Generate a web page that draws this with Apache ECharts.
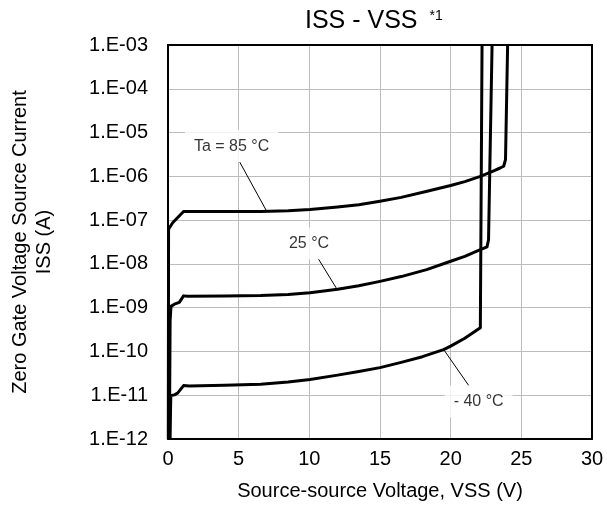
<!DOCTYPE html>
<html>
<head>
<meta charset="utf-8">
<script src="https://cdn.jsdelivr.net/npm/echarts@6/dist/echarts.min.js"></script>
<style>
html,body{margin:0;padding:0;background:#fff;}
#chart{width:607px;height:510px;}
</style>
</head>
<body>
<div id="chart"></div>
<script>
// ---- Data ----
const xTicks = [0, 5, 10, 15, 20, 25, 30];
const yTickLabels = ['1.E-12','1.E-11','1.E-10','1.E-09','1.E-08','1.E-07','1.E-06','1.E-05','1.E-04','1.E-03'];

// Ta = 85 °C
const v85 = [0.02, 0.04, 0.33, 1.1, 3, 6.56, 8.5, 10.05, 12, 13.5, 15, 16.5, 18.33, 20, 21, 22.1, 23, 23.5, 23.75, 23.88, 24.03];
const i85 = [1e-12, 6.2e-8, 8.7e-8, 1.58e-7, 1.58e-7, 1.58e-7, 1.64e-7, 1.74e-7, 2.0e-7, 2.24e-7, 2.69e-7, 3.31e-7, 4.57e-7, 6.17e-7, 7.59e-7, 1.0e-6, 1.32e-6, 1.55e-6, 1.70e-6, 2.4e-6, 1e-3];

// 25 °C
const v25 = [0.1, 0.15, 0.21, 0.45, 0.8, 1.1, 1.4, 4, 6.56, 8.5, 10.05, 12, 13.5, 15, 16.5, 18.3, 20, 21, 22.1, 22.57, 22.68, 22.76, 22.93];
const i25 = [1e-12, 5e-10, 1.07e-9, 1.2e-9, 1.32e-9, 1.86e-9, 1.82e-9, 1.84e-9, 1.89e-9, 2.0e-9, 2.19e-9, 2.63e-9, 3.16e-9, 3.98e-9, 5.13e-9, 7.41e-9, 1.15e-8, 1.48e-8, 2.11e-8, 2.45e-8, 3.55e-8, 1e-6, 1e-3];

// -40 °C
const vM40 = [0.15, 0.18, 0.2, 0.45, 0.68, 1.1, 1.5, 4, 6.56, 8.5, 10.05, 12, 13.5, 15, 16.5, 18, 19.5, 20, 21, 22.1, 22.22];
const iM40 = [1e-12, 5e-12, 9.8e-12, 1.02e-11, 1.12e-11, 1.66e-11, 1.62e-11, 1.68e-11, 1.78e-11, 2.0e-11, 2.29e-11, 2.88e-11, 3.47e-11, 4.27e-11, 5.62e-11, 7.59e-11, 1.1e-10, 1.32e-10, 2.0e-10, 3.47e-10, 1e-3];

// Annotation labels: text, label anchor (V, A), leader start, leader end
const annTexts = ['Ta = 85 °C', '25 °C', '- 40 °C'];
const annAnchor = [[4.5, 4.9e-6], [9.98, 2.95e-8], [21.98, 7.2e-12]];
const annLeaderFrom = [[5.08, 2.1e-6], [10.64, 1.3e-8], [21.28, 1.66e-11]];
const annLeaderTo = [[6.99, 1.58e-7], [11.94, 2.7e-9], [19.51, 1.1e-10]];

// ---- Build ----
const FONT = "'Liberation Sans', Arial, sans-serif";
const zip = (xs, ys) => xs.map((x, k) => [x, ys[k]]);
const curve = (name, xs, ys) => ({
  name, type: 'line', data: zip(xs, ys), showSymbol: false, symbol: 'none',
  lineStyle: { color: '#000', width: 3, join: 'round' }, z: 5, animation: false
});

const series = [
  curve('85', v85, i85),
  curve('25', v25, i25),
  curve('-40', vM40, iM40)
];
annTexts.forEach((t, k) => {
  series.push({
    type: 'line', data: [annLeaderFrom[k], annLeaderTo[k]], symbol: 'none',
    lineStyle: { color: '#000', width: 1 }, z: 4, animation: false, silent: true
  });
  series.push({
    type: 'scatter', data: [annAnchor[k]], symbolSize: 0, z: 6, animation: false, silent: true,
    label: {
      show: true, position: 'inside', formatter: t, color: '#000',
      fontFamily: FONT, fontSize: 16, backgroundColor: '#fff', padding: [8, 9]
    }
  });
});

const splitStyle = { show: true, lineStyle: { color: '#bcbcbc', width: 1, type: 'solid' } };
const borderLine = { show: true, onZero: false, lineStyle: { color: '#000', width: 2 } };

const chart = echarts.init(document.getElementById('chart'), null, { renderer: 'canvas' });
chart.setOption({
  animation: false,
  backgroundColor: '#fff',
  title: {
    text: '{a|ISS - VSS }{b|*1}',
    left: 305, top: 9, padding: 0,
    textStyle: {
      fontWeight: 'normal',
      rich: {
        a: { fontFamily: FONT, fontSize: 25, fontWeight: 'normal', color: '#000' },
        b: { fontFamily: FONT, fontSize: 14, fontWeight: 'normal', color: '#000', verticalAlign: 'top', padding: [0, 0, 0, 5] }
      }
    }
  },
  grid: { left: 167, right: 15, top: 45, bottom: 71, show: false },
  xAxis: [{
    type: 'value', min: xTicks[0], max: xTicks[xTicks.length - 1], interval: 5,
    name: 'Source-source Voltage, VSS (V)', nameLocation: 'middle', nameGap: 42,
    nameTextStyle: { fontFamily: FONT, fontSize: 20, color: '#000' },
    axisLine: borderLine, axisTick: { show: false },
    axisLabel: { fontFamily: FONT, fontSize: 20, color: '#000', margin: 10 },
    splitLine: splitStyle
  }, {
    type: 'value', position: 'top', min: xTicks[0], max: xTicks[xTicks.length - 1], interval: 5,
    axisLine: borderLine, axisTick: { show: false }, axisLabel: { show: false }, splitLine: { show: false }
  }],
  yAxis: [{
    type: 'log', logBase: 10, min: 1e-12, max: 1e-3, interval: 1,
    name: 'Zero Gate Voltage Source Current\nISS (A)', nameLocation: 'middle', nameGap: 112,
    nameTextStyle: { fontFamily: FONT, fontSize: 20, color: '#000', lineHeight: 24 },
    axisLine: borderLine, axisTick: { show: false },
    axisLabel: {
      fontFamily: FONT, fontSize: 20, color: '#000', margin: 20,
      formatter: v => {
        const e = Math.round(Math.log10(v));
        return yTickLabels[e + 12] || '';
      }
    },
    splitLine: splitStyle
  }, {
    type: 'log', logBase: 10, position: 'right', min: 1e-12, max: 1e-3, interval: 1,
    axisLine: borderLine, axisTick: { show: false }, axisLabel: { show: false }, splitLine: { show: false }
  }],
  series
});
</script>
</body>
</html>
